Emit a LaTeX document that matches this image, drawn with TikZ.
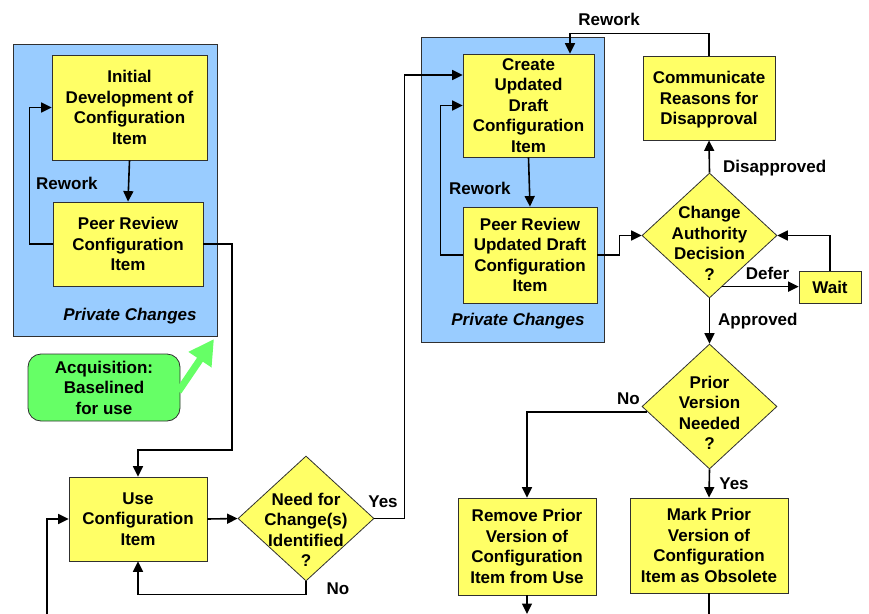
\documentclass[tikz,border=0pt]{standalone}
\usepackage{fontspec}
\setmainfont{Liberation Sans}
\usetikzlibrary{arrows.meta,shapes.geometric}
\definecolor{boxyellow}{HTML}{FFFF66}
\definecolor{panelblue}{HTML}{99CCFF}
\definecolor{acqgreen}{HTML}{66FF66}
\definecolor{edgegray}{HTML}{303030}

\begin{document}
\begin{tikzpicture}[x=1pt,y=-1pt,
  every node/.style={font=\fontsize{17}{20.5}\selectfont\bfseries, align=center, inner sep=0pt},
  panel/.style={rectangle, draw=edgegray, line width=0.8pt, fill=panelblue},
  stepbox/.style={rectangle, draw=edgegray, line width=0.8pt, fill=boxyellow, text depth=0pt},
  decision/.style={diamond, draw=edgegray, line width=0.8pt, fill=boxyellow},
  startbox/.style={rectangle, rounded corners=13pt, draw=edgegray, line width=0.8pt, fill=acqgreen},
  flow/.style={draw=black, line width=1.6pt, -{Triangle[length=10.5pt,width=10pt]}},
  plainflow/.style={draw=black, line width=1.6pt},
  lbl/.style={text height=12pt, text depth=0pt},
  paneltitle/.style={lbl, font=\fontsize{17}{20.5}\selectfont\bfseries\itshape},
  bigarrow/.style={draw=acqgreen, line width=7pt, -{Triangle[length=25pt,width=26pt]}},
]
\useasboundingbox (0,0) rectangle (869,613);
\clip (0,0) rectangle (869,613);

% ---- private change panels ----
\node[panel, minimum width=204, minimum height=292] (leftpanel) at (115,190) {};
\node[paneltitle] (lefttitle) at (130,314) {Private Changes};
\node[panel, minimum width=183, minimum height=305] (rightpanel) at (512.5,189.5) {};
\node[paneltitle] (righttitle) at (518,319) {Private Changes};

% ---- process steps ----
\node[stepbox, minimum width=155, minimum height=105] (init) at (129.5,107.5)
  {Initial\\Development of\\Configuration\\Item};
\node[stepbox, minimum width=150, minimum height=84] (peer1) at (128,244)
  {Peer Review\\Configuration\\Item};
\node[stepbox, minimum width=138, minimum height=84] (use) at (138,519)
  {Use\\Configuration\\Item};
\node[stepbox, minimum width=131, minimum height=103] (create) at (528.5,105.5)
  {Create\\Updated\\Draft\\Configuration\\Item};
\node[stepbox, minimum width=134, minimum height=96] (peer2) at (530,255)
  {Peer Review\\Updated Draft\\Configuration\\Item};
\node[stepbox, minimum width=132, minimum height=84] (comm) at (709,98)
  {Communicate\\Reasons for\\Disapproval};
\node[stepbox, minimum width=62, minimum height=32] (wait) at (830,287) {Wait};
\node[stepbox, minimum width=138, minimum height=97] (remove) at (527,546.5)
  {Remove Prior\\Version of\\Configuration\\Item from Use};
\node[stepbox, minimum width=158, minimum height=95] (mark) at (709,545.5)
  {Mark Prior\\Version of\\Configuration\\Item as Obsolete};
\node[startbox, minimum width=152, minimum height=67] (acq) at (104,387.5)
  {Acquisition:\\Baselined\\for use};

% ---- decisions ----
\node[decision, minimum width=136, minimum height=125] (need) at (306,518.5) {};
\node (needq) at (306,530) {Need for\\Change(s)\\Identified\\?};
\node[decision, minimum width=135, minimum height=125] (cad) at (709.5,235.5) {};
\node (cadq) at (709.5,243.5) {Change\\Authority\\Decision\\?};
\node[decision, minimum width=135, minimum height=125] (prior) at (709.5,406.5) {};
\node (priorq) at (709.5,413) {Prior\\Version\\Needed\\?};

% ---- loose ends at the page edge ----
\coordinate (fromabove) at (47,614);
\coordinate (removeout) at (527,614);
\coordinate (markout) at (709,614);
\coordinate (acqtip) at (214,339);

% ---- connectors ----
\draw[flow] (init.south) -- (peer1.north);
\draw[flow] (peer1.west) -- ++(-23,0) |- (init.west);
\draw[flow] (peer1.east) -| (232,450) -| (use.north);
\draw[flow] (use.east) -- (need.west);
\draw[flow] (need.south) -- ++(0,13) -| (use.south);
\draw[flow] (need.east) -- ++(30,0) |- ([yshift=30.5pt]create.west);
\draw[flow] (fromabove) |- (use.west);
\draw[flow] (create.south) -- (peer2.north);
\draw[flow] (peer2.west) -- ++(-22,0) |- (create.west);
\draw[flow] (peer2.east) -- ++(22,0) |- (cad.west);
\draw[flow] (comm.north) -- ++(0,-22) -| ([xshift=41.5pt]create.north);
\draw[flow] (cad.north) -- (comm.south);
\draw[flow] (cad.-76) -- (cad.-76 -| wait.west);
\draw[flow] (wait.north) |- (cad.east);
\draw[flow] (cad.south) -- (prior.north);
\draw[flow] (prior.185) -| (remove.north);
\draw[flow] (prior.south) -- (mark.north);
\draw[flow] (remove.south) -- (removeout);
\draw[plainflow] (mark.south) -- (markout);
\draw[bigarrow] ([xshift=-2pt,yshift=-4pt]acq.east) -- (acqtip);

% ---- connector labels ----
\node[lbl, anchor=west] (rw1) at (36,183) {Rework};
\node[lbl, anchor=west] (rw2) at (449,188) {Rework};
\node[lbl] (rw3) at (609,19) {Rework};
\node[lbl] (yes1) at (383,501) {Yes};
\node[lbl] (no1) at (338,588) {No};
\node[lbl, anchor=west] (disap) at (723,166) {Disapproved};
\node[lbl] (defer) at (767.5,273) {Defer};
\node[lbl, anchor=west] (appr) at (718,319) {Approved};
\node[lbl] (no2) at (628.5,398) {No};
\node[lbl] (yes2) at (734,483) {Yes};
\end{tikzpicture}
\end{document}
